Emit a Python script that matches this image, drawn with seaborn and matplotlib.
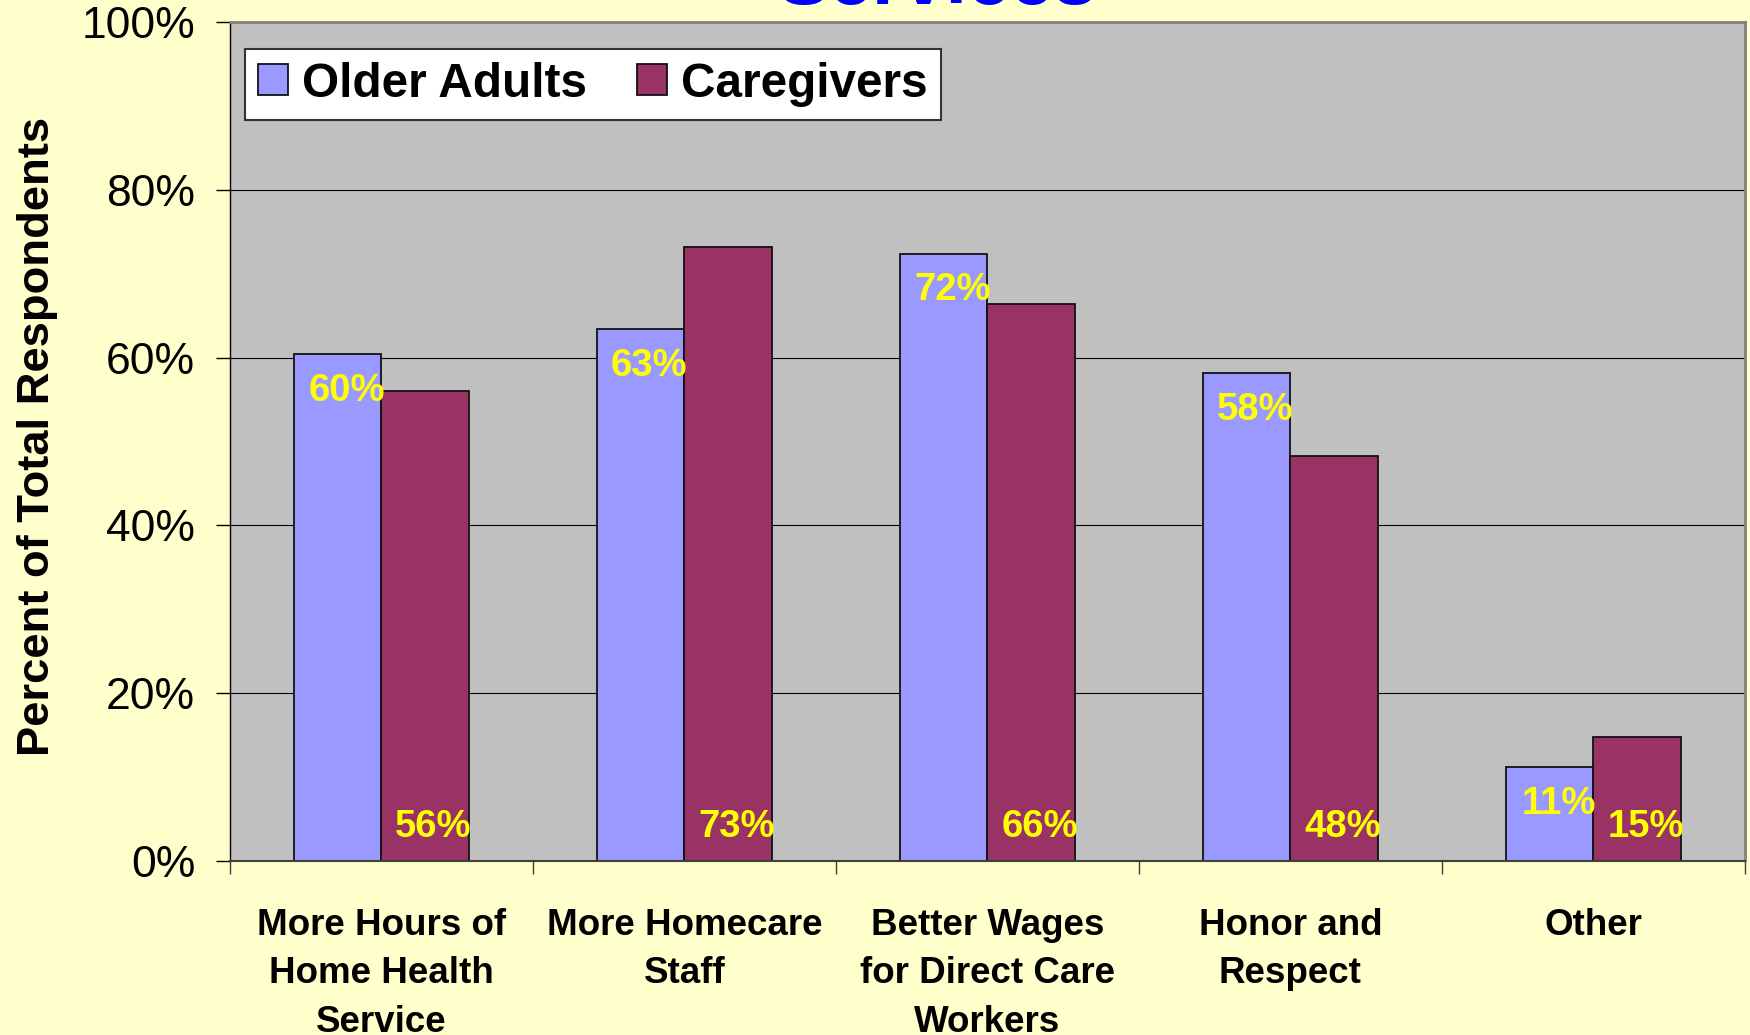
import matplotlib
matplotlib.use("Agg")
import matplotlib.pyplot as plt
import pandas as pd
import seaborn as sns

# values (percent of respondents)
categories = ["More Hours of\nHome Health\nService", "More Homecare\nStaff",
              "Better Wages\nfor Direct Care\nWorkers", "Honor and\nRespect", "Other"]
older_adults = [60.4, 63.4, 72.4, 58.1, 11.2]
caregivers = [56.0, 73.2, 66.4, 48.3, 14.8]
groups = ["Older Adults", "Caregivers"]
group_colors = ["#9999FF", "#993366"]
y_ticks = [0, 20, 40, 60, 80, 100]

df = pd.DataFrame({
    "category": categories * 2,
    "group": [groups[0]] * len(categories) + [groups[1]] * len(categories),
    "value": older_adults + caregivers,
})

sns.set_style("ticks", {"text.color": "black", "axes.labelcolor": "black",
                        "xtick.color": "black", "ytick.color": "black"})
plt.rcParams["font.family"] = ["Liberation Sans", "DejaVu Sans"]

fig = plt.figure(figsize=(17.5, 10.35), dpi=100, facecolor="#FFFFCC")
ax = fig.add_axes([0.1314, 0.1684, 0.8657, 0.8103])
ax.set_facecolor("#C0C0C0")

sns.barplot(data=df, x="category", y="value", hue="group", order=categories,
            hue_order=groups, palette=group_colors, width=0.575, gap=0,
            saturation=1, errorbar=None, edgecolor="#111111", linewidth=1.3, ax=ax)

# value labels: older adults near the bar top, caregivers near the base
for i, bars in enumerate(ax.containers):
    for bar in bars:
        h = bar.get_height()
        y = h - 4.4 if i == 0 else 4.0
        ax.text(bar.get_x() + bar.get_width() / 2 + 0.028, y, f"{h:.0f}%",
                ha="center", va="center", color="#FFFF00",
                fontsize=27.5, fontweight="bold")

ax.set_ylim(0, 100)
ax.set_xlim(-0.5, len(categories) - 0.5)
ax.set_yticks(y_ticks)
ax.set_yticklabels([f"{t}%" for t in y_ticks])
ax.yaxis.grid(True, color="black", linewidth=0.8)
ax.xaxis.grid(False)
ax.set_axisbelow(True)
ax.tick_params(axis="y", labelsize=32, length=10, width=1, pad=15,
               color="black", labelcolor="black")

ax.set_xticks(range(len(categories)))
ax.set_xticklabels(categories, fontsize=26.5, fontweight="bold",
                   linespacing=1.5, color="black")
ax.tick_params(axis="x", which="major", length=0, pad=34)
ax.set_xticks([i - 0.5 for i in range(len(categories) + 1)], minor=True)
ax.tick_params(axis="x", which="minor", length=9, width=1, color="#404040")

ax.spines["left"].set_color("black")
ax.spines["left"].set_linewidth(1)
ax.spines["bottom"].set_color("#404040")
ax.spines["bottom"].set_linewidth(1.5)
for side in ["top", "right"]:
    ax.spines[side].set_color("#808080")
    ax.spines[side].set_linewidth(2)

ax.set_xlabel("")
ax.set_ylabel("Percent of Total Respondents", fontsize=32.7, fontweight="bold",
              va="center", color="black")
ax.yaxis.set_label_coords(-0.127, 0.506)

leg = ax.legend(loc="upper left", bbox_to_anchor=(0.01, 0.968), borderaxespad=0,
                ncol=2, prop={"size": 34.4, "weight": "bold"}, frameon=True,
                fancybox=False, framealpha=1, edgecolor="#333333",
                handlelength=0.62, handleheight=0.62, handletextpad=0.3,
                columnspacing=1.05, borderpad=0.27, title=None)
leg.get_frame().set_linewidth(1.5)
for t in leg.get_texts():
    t.set_color("black")

# title is mostly cut off at the top of the slide
fig.text(0.536, 0.996, "Services", ha="center", va="baseline",
         fontsize=56, fontweight="bold", color="#0000FF")

fig.savefig("out.png", dpi=100, facecolor=fig.get_facecolor())
